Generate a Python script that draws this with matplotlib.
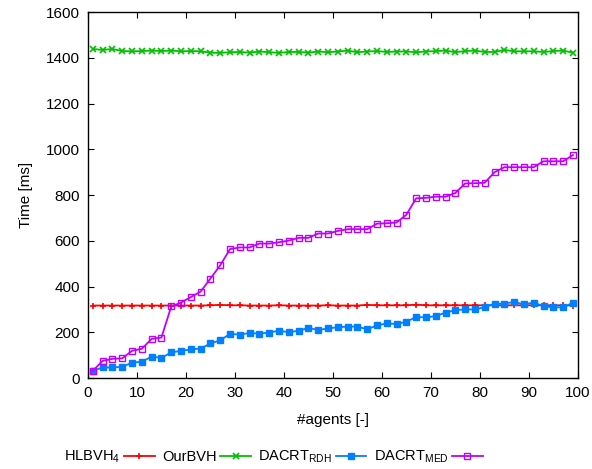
import matplotlib
matplotlib.use("Agg")
import matplotlib.pyplot as plt

plt.rcParams['font.family'] = ['Liberation Sans', 'DejaVu Sans']
plt.rcParams['mathtext.fontset'] = 'custom'
plt.rcParams['mathtext.rm'] = 'Liberation Sans'
plt.rcParams['mathtext.it'] = 'Liberation Sans'

agents = list(range(1, 100, 2))

hlbvh4 = [317, 317, 317, 317, 317, 317, 317, 317, 317, 317,
          317, 317, 318, 320, 318, 318, 317, 317, 317, 318,
          317, 317, 317, 317, 318, 317, 317, 317, 320, 318,
          318, 318, 318, 321, 318, 318, 318, 318, 318, 318,
          318, 318, 318, 318, 318, 318, 318, 318, 318, 317]

ourbvh = [1439, 1435, 1439, 1430, 1429, 1430, 1432, 1430, 1432, 1429,
          1430, 1429, 1423, 1422, 1425, 1426, 1423, 1428, 1425, 1422,
          1426, 1426, 1423, 1428, 1425, 1428, 1432, 1425, 1428, 1430,
          1426, 1428, 1428, 1425, 1428, 1430, 1432, 1425, 1430, 1432,
          1426, 1426, 1435, 1429, 1429, 1429, 1426, 1430, 1432, 1423]

dacrt_rdh = [32, 46, 46, 49, 67, 71, 94, 88, 112, 119,
             125, 129, 151, 165, 193, 190, 197, 194, 199, 207,
             200, 207, 219, 210, 217, 222, 225, 225, 213, 230,
             239, 236, 246, 267, 265, 271, 286, 297, 300, 300,
             310, 325, 325, 333, 322, 330, 314, 309, 309, 329]

dacrt_med = [32, 75, 84, 86, 119, 128, 171, 177, 313, 330,
             354, 378, 435, 493, 564, 571, 571, 588, 588, 594,
             601, 613, 613, 632, 632, 643, 651, 651, 651, 675,
             677, 680, 714, 786, 788, 793, 793, 809, 851, 852,
             854, 900, 922, 922, 922, 922, 948, 948, 948, 975]

xticks = list(range(0, 101, 10))
yticks = list(range(0, 1601, 200))

fig = plt.figure(figsize=(5.92, 4.69), dpi=100)
ax = fig.add_axes([0.1486, 0.194, 0.8274, 0.780])

lw = 1.3
ax.plot(agents, hlbvh4, color='#ff0000', marker='+', ms=5, mew=1.2, lw=lw, label='HLBVH$_4$')
ax.plot(agents, ourbvh, color='#00c000', marker='x', ms=4, mew=1.2, lw=lw, label='OurBVH')
ax.plot(agents, dacrt_rdh, color='#0080ff', marker='s', ms=4, mew=1, lw=lw, label='DACRT$_{\\rm RDH}$')
ax.plot(agents, dacrt_med, color='#c000ff', marker='s', ms=5, mew=1, mfc='none', lw=lw, label='DACRT$_{\\rm MED}$')

ax.set_xlim(0, 100)
ax.set_ylim(0, 1600)
ax.set_xticks(xticks)
ax.set_yticks(yticks)
ax.tick_params(direction='in', top=True, right=True, length=4, width=0.8, labelsize=11, pad=6)
for s in ax.spines.values():
    s.set_linewidth(1.0)
ax.set_xlabel('#agents [-]', fontsize=11, labelpad=9)
ax.set_ylabel('Time [ms]', fontsize=11, labelpad=9)

fig.legend(loc='center', bbox_to_anchor=(0.462, 0.026), ncol=4, frameon=False,
           markerfirst=False, fontsize=10.5, handlelength=2.1, columnspacing=0.5,
           handletextpad=0.25, borderpad=0.2)

fig.savefig('out.png', dpi=100)
